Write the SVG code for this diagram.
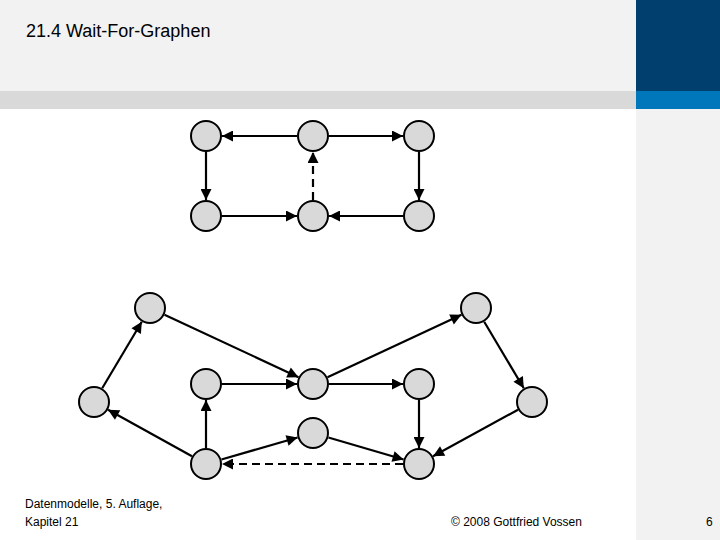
<svg xmlns="http://www.w3.org/2000/svg" width="720" height="540" viewBox="0 0 720 540">
<style>
.n{fill:#d9d9d9;stroke:#000;stroke-width:2}
.e{stroke:#000;stroke-width:2.2;fill:none;marker-end:url(#ah)}
.d{stroke-dasharray:8,5}
.t{font-family:"Liberation Sans",Arial,sans-serif;fill:#000}
</style>
<defs><marker id="ah" viewBox="0 0 10 10" refX="10" refY="5" markerWidth="5.5" markerHeight="5" orient="auto" markerUnits="strokeWidth"><path d="M0,0L10,5L0,10z" fill="#000"/></marker></defs>
<rect width="720" height="540" fill="#fff"/>
<rect x="0" y="0" width="636" height="91" fill="#f2f2f2"/>
<rect x="0" y="91" width="636" height="18" fill="#d9d9d9"/>
<rect x="636" y="0" width="84" height="91" fill="#003f6e"/>
<rect x="636" y="91" width="84" height="18" fill="#0076bb"/>
<rect x="636" y="109" width="84" height="431" fill="#f2f2f2"/>
<text class="t" x="26" y="37" font-size="18">21.4 Wait-For-Graphen</text>
<g id="connectors">
<line class="e" x1="297" y1="136" x2="222" y2="136"/>
<line class="e" x1="329" y1="136" x2="403" y2="136"/>
<line class="e" x1="206" y1="152" x2="206" y2="200"/>
<line class="e" x1="419" y1="152" x2="419" y2="200"/>
<line class="e" x1="222" y1="216" x2="297" y2="216"/>
<line class="e" x1="403" y1="216" x2="329" y2="216"/>
<line class="e d" x1="313" y1="200" x2="313" y2="152"/>
<line class="e" x1="164.5" y1="314.8" x2="298.5" y2="377.2"/>
<line class="e" x1="102.2" y1="388.3" x2="141.8" y2="321.7"/>
<line class="e" x1="192" y1="456.3" x2="108" y2="409.7"/>
<line class="e" x1="206" y1="448" x2="206" y2="400"/>
<line class="e" x1="222" y1="384" x2="297" y2="384"/>
<line class="e" x1="329" y1="384" x2="403" y2="384"/>
<line class="e" x1="327.5" y1="377.2" x2="461.5" y2="314.8"/>
<line class="e" x1="484.2" y1="321.7" x2="523.8" y2="388.3"/>
<line class="e" x1="518" y1="409.7" x2="433" y2="456.3"/>
<line class="e" x1="419" y1="400" x2="419" y2="448"/>
<line class="e" x1="221.4" y1="459.5" x2="297.6" y2="437.5"/>
<line class="e" x1="328.4" y1="437.5" x2="403.6" y2="459.5"/>
<line class="e d" x1="403" y1="464" x2="222" y2="464"/>
</g>
<g id="t1"><circle class="n" cx="206" cy="136" r="15"/></g>
<g id="t2"><circle class="n" cx="313" cy="136" r="15"/></g>
<g id="t3"><circle class="n" cx="419" cy="136" r="15"/></g>
<g id="t4"><circle class="n" cx="206" cy="216" r="15"/></g>
<g id="t5"><circle class="n" cx="313" cy="216" r="15"/></g>
<g id="t6"><circle class="n" cx="419" cy="216" r="15"/></g>
<g id="a"><circle class="n" cx="150" cy="308" r="15"/></g>
<g id="b"><circle class="n" cx="94" cy="402" r="15"/></g>
<g id="c"><circle class="n" cx="206" cy="384" r="15"/></g>
<g id="d"><circle class="n" cx="313" cy="384" r="15"/></g>
<g id="e"><circle class="n" cx="419" cy="384" r="15"/></g>
<g id="f"><circle class="n" cx="313" cy="433" r="15"/></g>
<g id="g"><circle class="n" cx="206" cy="464" r="15"/></g>
<g id="h"><circle class="n" cx="419" cy="464" r="15"/></g>
<g id="i"><circle class="n" cx="476" cy="308" r="15"/></g>
<g id="j"><circle class="n" cx="532" cy="402" r="15"/></g>
<text class="t" x="25" y="508" font-size="12">Datenmodelle,  5. Auflage,</text>
<text class="t" x="25" y="526" font-size="12">Kapitel 21</text>
<text class="t" x="451" y="526" font-size="12">© 2008 Gottfried Vossen</text>
<text class="t" x="706" y="526" font-size="12">6</text>
</svg>
